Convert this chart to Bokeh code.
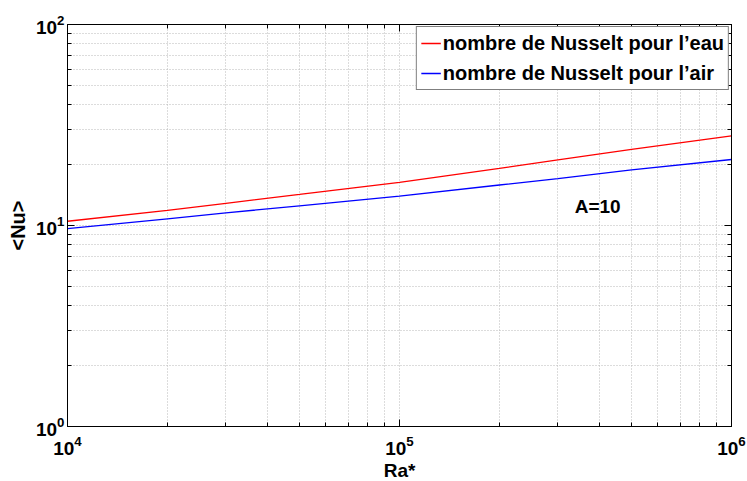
from bokeh.plotting import figure
from bokeh.models import (LogAxis, Label, Legend, LegendItem, Range1d,
                          FixedTicker, LogTickFormatter)
from bokeh.embed import file_html
from bokeh.resources import INLINE

# ---- data ----
ra = [1e4, 2e4, 3e4, 5e4, 1e5, 2e5, 3e5, 5e5, 1e6]
nu_eau = [10.5, 11.9, 12.9, 14.27, 16.39, 19.23, 21.2, 23.9, 27.9]
nu_air = [9.64, 10.8, 11.55, 12.53, 14.01, 15.9, 17.1, 18.9, 21.3]
x_ticks = [1e4, 1e5, 1e6]
y_ticks = [1, 10, 100]
label_eau = "nombre de Nusselt pour l\u2019eau"
label_air = "nombre de Nusselt pour l\u2019air"
annotation_text = "A=10"
annotation_pos = (3.37e5, 12.4)
x_label = "Ra*"
y_label = "<Nu>"

FONT = "Liberation Sans"


def minor_of(majors):
    return [m * k for m in majors[:-1] for k in range(2, 10)]


def xticker():
    return FixedTicker(ticks=x_ticks, minor_ticks=minor_of(x_ticks))


def yticker():
    return FixedTicker(ticks=y_ticks, minor_ticks=minor_of(y_ticks))


p = figure(x_axis_type="log", y_axis_type="log",
           x_range=Range1d(x_ticks[0], x_ticks[-1]),
           y_range=Range1d(y_ticks[0], y_ticks[-1]),
           frame_width=664, frame_height=402,
           min_border_left=67, min_border_top=24, min_border_right=16,
           min_border_bottom=55,
           output_backend="svg", toolbar_location=None)
p.background_fill_color = "white"
p.border_fill_color = "white"
p.outline_line_color = "black"
p.outline_line_width = 1

r1 = p.line(ra, nu_eau, line_color="red", line_width=1.3)
r2 = p.line(ra, nu_air, line_color="blue", line_width=1.3)

# grids
p.xgrid[0].ticker = xticker()
p.ygrid[0].ticker = yticker()
for g in (p.xgrid[0], p.ygrid[0]):
    g.grid_line_color = "#b8b8b8"
    g.grid_line_dash = "1 2"
    g.minor_grid_line_color = "#b8b8b8"
    g.minor_grid_line_dash = "1 2"

# main axes
p.xaxis[0].ticker = xticker()
p.yaxis[0].ticker = yticker()
for ax in (p.xaxis[0], p.yaxis[0]):
    ax.formatter = LogTickFormatter()
    ax.major_tick_in = 7
    ax.major_tick_out = 0
    ax.minor_tick_in = 4
    ax.minor_tick_out = 0
    ax.major_tick_line_color = "black"
    ax.minor_tick_line_color = "black"
    ax.axis_line_color = "black"
    ax.major_label_text_font = FONT
    ax.major_label_text_font_style = "bold"
    ax.major_label_text_font_size = "19px"
    ax.major_label_text_color = "black"
    ax.axis_label_text_font = FONT
    ax.axis_label_text_font_style = "bold"
    ax.axis_label_text_font_size = "19px"
    ax.axis_label_text_color = "black"
p.yaxis[0].axis_label_text_font_size = "20px"
p.xaxis[0].axis_label = x_label
p.yaxis[0].axis_label = y_label
p.xaxis[0].major_label_standoff = 9
p.xaxis[0].axis_label_standoff = 2
p.yaxis[0].major_label_standoff = 3
p.yaxis[0].axis_label_standoff = 4

# box axes (ticks only)
top = LogAxis(ticker=xticker())
right = LogAxis(ticker=yticker())
for ax in (top, right):
    ax.major_tick_in = 7
    ax.major_tick_out = 0
    ax.minor_tick_in = 4
    ax.minor_tick_out = 0
    ax.major_tick_line_color = "black"
    ax.minor_tick_line_color = "black"
    ax.major_label_text_font_size = "2px"
    ax.major_label_text_alpha = 0
    ax.major_label_standoff = 0
    ax.axis_line_color = "black"
p.add_layout(top, "above")
p.add_layout(right, "right")

# A=10 annotation
p.add_layout(Label(x=annotation_pos[0], y=annotation_pos[1], text=annotation_text,
                   text_font=FONT, text_font_style="bold", text_font_size="19px",
                   text_baseline="alphabetic", text_align="left", text_color="black"))

legend = Legend(items=[LegendItem(label=label_eau, renderers=[r1]),
                       LegendItem(label=label_air, renderers=[r2])],
                location="top_right")
legend.label_text_font = FONT
legend.label_text_font_style = "bold"
legend.label_text_font_size = "20px"
legend.label_text_color = "black"
legend.border_line_color = "black"
legend.border_line_width = 1
legend.background_fill_alpha = 1
legend.margin = 2
legend.padding = 4
legend.spacing = 6
legend.glyph_width = 20
legend.glyph_height = 24
legend.label_height = 24
legend.label_standoff = 2
p.add_layout(legend)

open("out.html", "w").write(file_html(p, INLINE))
